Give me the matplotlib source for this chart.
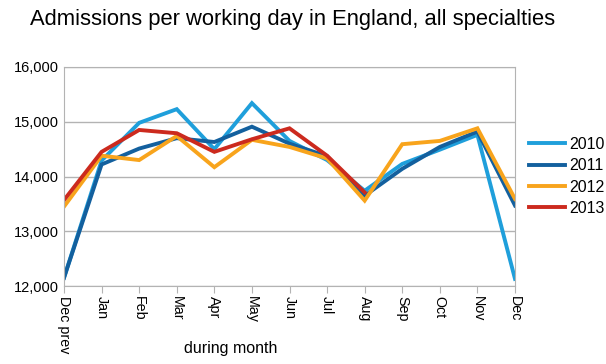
import matplotlib.pyplot as plt
import numpy as np

plt.rcParams['font.family'] = ['Liberation Sans', 'DejaVu Sans']

months = ['Dec prev', 'Jan', 'Feb', 'Mar', 'Apr', 'May', 'Jun',
          'Jul', 'Aug', 'Sep', 'Oct', 'Nov', 'Dec']

y2010 = [12150, 14290, 14980, 15230, 14500, 15340, 14650, 14300, 13740, 14230, 14490, 14760, 12130]
y2011 = [12150, 14220, 14510, 14700, 14630, 14910, 14600, 14370, 13650, 14140, 14540, 14820, 13470]
y2012 = [13450, 14380, 14300, 14740, 14170, 14670, 14540, 14330, 13560, 14590, 14650, 14880, 13590]
y2013 = [13570, 14450, 14850, 14790, 14450, 14680, 14880, 14380, 13710]

series = [
    ('2010', y2010, '#1f9fdb'),
    ('2011', y2011, '#13609e'),
    ('2012', y2012, '#f8a41c'),
    ('2013', y2013, '#cc2a1e'),
]

fig = plt.figure(figsize=(6.06, 3.64), dpi=100)
ax = fig.add_axes([64/606, 1 - 286/364, (515 - 64)/606, (286 - 67)/364])

x = np.arange(len(months))
for name, vals, col in series:
    ax.plot(x[:len(vals)], vals, color=col, lw=2.8, label=name,
            solid_joinstyle='miter')

ax.set_xlim(0, len(months) - 1)
ax.set_ylim(12000, 16000)
ax.set_yticks([12000, 13000, 14000, 15000, 16000])
ax.set_yticklabels(['12,000', '13,000', '14,000', '15,000', '16,000'], fontsize=10.5)
ax.set_xticks(x)
ax.set_xticklabels(months, rotation=270, fontsize=10.3)

ax.grid(True, axis='y', color='#b3b3b3', lw=1)
ax.set_axisbelow(True)
for s in ax.spines.values():
    s.set_color('#b3b3b3')
ax.tick_params(axis='x', length=5, color='#b3b3b3', pad=2)
ax.tick_params(axis='y', length=0, pad=4)

ax.set_xlabel('during month', fontsize=11.5)
ax.xaxis.set_label_coords((231 - 64) / 451, -0.25)

fig.text(30/606, 1 - 20/364, 'Admissions per working day in England, all specialties',
         fontsize=15.8, va='center', ha='left')

ax.legend(loc='center left', bbox_to_anchor=(1.0, 0.5), frameon=False,
          fontsize=11.5, handlelength=2.2, handletextpad=0.3, labelspacing=0.4)

fig.savefig('out.png', dpi=100)
